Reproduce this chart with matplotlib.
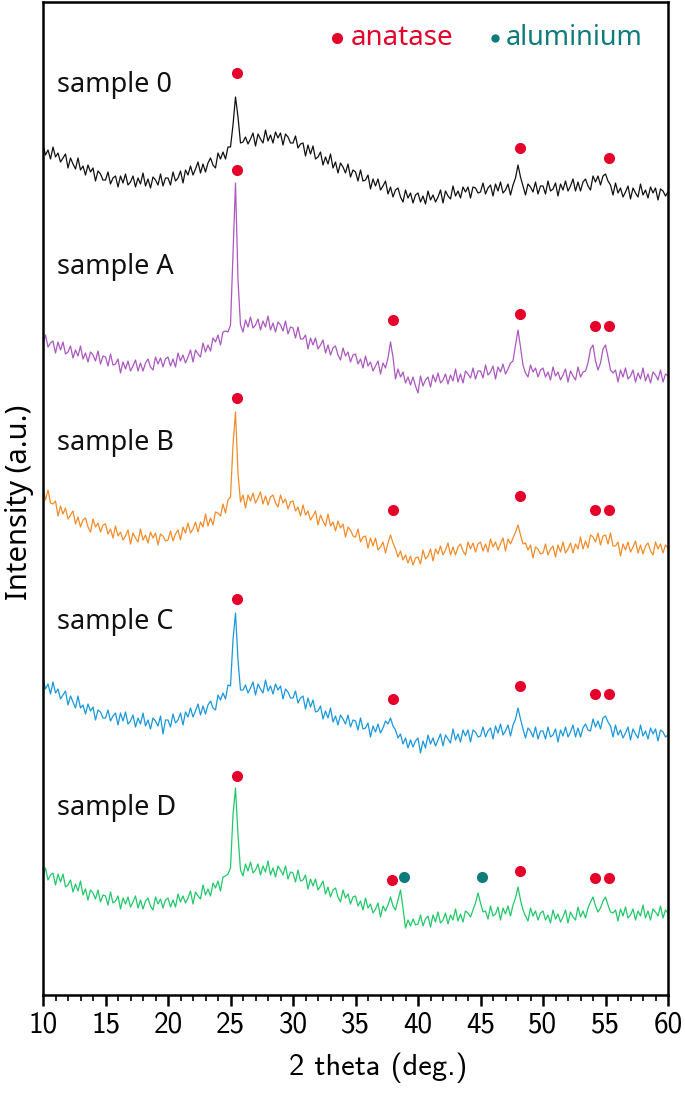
import numpy as np
import matplotlib
matplotlib.use("Agg")
import matplotlib.pyplot as plt

# 2 theta grid of the scans (0.2 deg step)
two_theta = np.round(np.arange(10.0, 60.01, 0.2), 1)

# intensities (a.u., each trace above its own offset)
sample_0 = [
    60, 50, 55, 46, 58, 48, 52, 43, 47, 51, 37, 47, 41, 36, 47, 35, 39, 30, 40, 33, 37, 24, 34, 31, 25,
    25, 33, 21, 27, 29, 18, 29, 22, 31, 20, 23, 29, 18, 27, 21, 32, 19, 26, 17, 28, 25, 20, 31, 19, 27,
    27, 20, 33, 24, 27, 34, 22, 35, 30, 39, 30, 36, 43, 32, 41, 33, 42, 47, 40, 37, 52, 46, 53, 46, 58,
    58, 80, 108, 88, 62, 63, 68, 61, 66, 72, 59, 71, 66, 62, 75, 64, 70, 62, 73, 67, 72, 60, 71, 68, 62,
    62, 69, 57, 61, 62, 49, 60, 51, 59, 46, 48, 53, 40, 48, 41, 51, 37, 43, 32, 42, 38, 32, 41, 28, 35,
    33, 24, 35, 24, 25, 30, 16, 26, 19, 26, 15, 19, 24, 11, 18, 8, 15, 17, 8, 3, 15, 7, 12, 2, 10,
    12, 3, 9, 1, 14, 5, 10, 3, 8, 15, 2, 14, 9, 6, 19, 9, 14, 7, 18, 13, 18, 7, 18, 17, 12,
    13, 22, 11, 17, 20, 9, 21, 14, 23, 12, 15, 21, 10, 20, 27, 40, 28, 19, 10, 21, 18, 13, 23, 11, 19,
    19, 11, 24, 14, 16, 22, 9, 21, 15, 24, 14, 19, 26, 14, 23, 14, 23, 26, 19, 15, 29, 23, 29, 20, 29,
    31, 24, 20, 10, 22, 12, 17, 8, 13, 19, 6, 17, 12, 8, 21, 10, 15, 7, 18, 12, 17, 5, 16, 14, 9,
    13,
]
sample_a = [
    42, 50, 38, 42, 44, 32, 43, 35, 43, 31, 33, 39, 27, 35, 29, 39, 26, 32, 23, 33, 30, 24, 34, 21, 29,
    28, 19, 31, 20, 21, 26, 12, 23, 16, 24, 14, 19, 25, 14, 22, 14, 22, 26, 18, 15, 28, 21, 27, 18, 26,
    28, 19, 26, 18, 32, 24, 30, 22, 28, 35, 23, 35, 31, 28, 42, 33, 40, 34, 47, 43, 50, 40, 53, 54, 53,
    60, 130, 202, 105, 60, 53, 65, 58, 68, 57, 60, 66, 55, 64, 58, 69, 55, 62, 53, 63, 60, 54, 64, 51, 58,
    57, 47, 58, 46, 46, 50, 36, 47, 40, 47, 36, 40, 45, 32, 40, 30, 37, 39, 30, 25, 37, 29, 33, 23, 30,
    31, 21, 26, 17, 29, 19, 23, 14, 19, 24, 11, 22, 17, 27, 43, 28, 6, 16, 8, 13, 2, 8, 0, 8, -1,
    -8, 9, -1, 5, 8, -2, 10, 3, 12, 2, 5, 11, 1, 10, 4, 16, 3, 11, 2, 14, 11, 7, 17, 6, 14,
    14, 7, 20, 10, 13, 19, 6, 18, 13, 21, 11, 16, 22, 24, 40, 55, 38, 20, 12, 8, 20, 13, 17, 8, 15,
    17, 8, 13, 5, 18, 9, 13, 5, 10, 16, 3, 14, 9, 5, 18, 8, 13, 14, 22, 36, 40, 24, 15, 22, 36,
    40, 28, 15, 12, 15, 3, 15, 8, 17, 6, 9, 15, 3, 12, 6, 17, 4, 11, 2, 13, 10, 5, 15, 3, 11,
    9,
]
sample_b = [
    77, 65, 75, 62, 61, 64, 49, 59, 51, 57, 46, 50, 54, 41, 48, 38, 45, 47, 38, 33, 46, 38, 42, 33, 40,
    41, 31, 36, 27, 39, 29, 33, 25, 29, 35, 21, 32, 27, 23, 36, 25, 30, 22, 33, 27, 32, 20, 31, 29, 24,
    25, 34, 24, 31, 35, 25, 38, 32, 42, 32, 36, 43, 33, 43, 38, 51, 39, 47, 40, 53, 52, 49, 61, 52, 65,
    68, 120, 153, 92, 63, 70, 57, 70, 64, 72, 62, 67, 73, 61, 69, 60, 68, 70, 62, 58, 70, 62, 66, 56, 63,
    64, 54, 58, 49, 60, 50, 54, 45, 49, 54, 40, 50, 44, 39, 51, 39, 43, 34, 44, 37, 41, 28, 38, 35, 29,
    28, 36, 23, 28, 29, 17, 27, 19, 27, 15, 18, 23, 12, 22, 30, 22, 16, 8, 14, 5, 10, 2, 9, 0, 7,
    8, 1, 15, 6, 9, 16, 4, 16, 11, 19, 10, 15, 22, 10, 18, 10, 18, 21, 14, 10, 23, 16, 22, 13, 21,
    23, 14, 21, 13, 26, 18, 23, 15, 21, 27, 14, 26, 21, 27, 33, 40, 30, 21, 22, 15, 20, 7, 18, 16, 11,
    12, 21, 10, 16, 19, 8, 20, 13, 23, 12, 16, 22, 12, 21, 16, 28, 16, 24, 17, 30, 28, 23, 32, 20, 29,
    30, 21, 32, 19, 19, 23, 9, 21, 15, 23, 13, 18, 24, 12, 20, 11, 19, 22, 14, 10, 23, 16, 21, 12, 20,
    17,
]
sample_c = [
    72, 61, 66, 56, 68, 57, 61, 51, 55, 59, 45, 54, 48, 42, 54, 42, 45, 36, 46, 39, 43, 30, 40, 38, 32,
    32, 40, 29, 34, 37, 25, 37, 29, 38, 26, 29, 35, 23, 32, 26, 37, 24, 30, 21, 32, 29, 24, 34, 16, 30,
    30, 23, 36, 27, 30, 37, 25, 38, 33, 42, 33, 39, 46, 35, 44, 36, 45, 49, 42, 40, 55, 50, 57, 51, 65,
    64, 110, 137, 90, 60, 60, 65, 57, 62, 68, 55, 66, 61, 57, 70, 59, 64, 56, 66, 60, 64, 51, 61, 58, 52,
    52, 59, 47, 52, 54, 41, 52, 43, 50, 38, 39, 44, 31, 39, 32, 42, 28, 34, 25, 35, 31, 26, 35, 23, 30,
    29, 20, 32, 21, 22, 27, 13, 24, 18, 26, 17, 22, 29, 26, 32, 24, 20, 12, 16, 6, 12, 2, 10, 3, 9,
    12, -3, 9, 2, 15, 6, 12, 4, 10, 16, 4, 15, 11, 7, 21, 10, 16, 8, 20, 14, 20, 8, 20, 18, 13,
    14, 23, 13, 19, 22, 11, 24, 17, 26, 15, 19, 25, 14, 25, 31, 42, 31, 21, 12, 22, 19, 13, 23, 11, 19,
    19, 11, 23, 13, 15, 21, 8, 20, 14, 23, 13, 18, 25, 13, 22, 13, 22, 26, 20, 19, 31, 23, 29, 21, 32,
    34, 28, 24, 13, 25, 15, 20, 12, 17, 23, 10, 21, 16, 12, 25, 14, 19, 11, 22, 16, 21, 9, 20, 18, 13,
    15,
]
sample_d = [
    54, 62, 50, 55, 57, 45, 56, 48, 56, 43, 45, 50, 38, 46, 39, 49, 35, 41, 30, 40, 37, 31, 40, 28, 35,
    34, 25, 38, 27, 29, 34, 21, 32, 26, 33, 23, 28, 34, 22, 30, 21, 29, 32, 24, 20, 33, 26, 31, 22, 30,
    32, 23, 30, 23, 36, 28, 34, 27, 32, 39, 26, 38, 34, 31, 45, 35, 41, 34, 47, 42, 49, 39, 53, 54, 56,
    62, 115, 142, 95, 60, 54, 66, 59, 68, 57, 60, 66, 55, 64, 58, 69, 55, 62, 53, 64, 60, 55, 64, 51, 58,
    57, 48, 60, 49, 50, 55, 41, 51, 44, 51, 40, 44, 49, 36, 43, 33, 40, 42, 33, 28, 40, 32, 36, 26, 33,
    34, 24, 29, 20, 32, 22, 26, 17, 21, 27, 13, 24, 19, 25, 33, 24, 20, 30, 40, 22, 2, 10, 4, 11, 5,
    6, 15, 4, 11, 14, 3, 15, 8, 18, 7, 10, 17, 6, 15, 10, 21, 9, 16, 8, 19, 17, 13, 20, 27, 37,
    27, 18, 19, 11, 24, 14, 16, 23, 10, 22, 16, 24, 14, 25, 32, 43, 30, 20, 14, 9, 22, 14, 19, 10, 17,
    19, 10, 15, 7, 20, 11, 16, 8, 13, 20, 7, 18, 13, 10, 23, 13, 19, 12, 22, 28, 33, 24, 18, 22, 29,
    33, 25, 18, 17, 20, 9, 21, 14, 23, 12, 15, 21, 10, 19, 14, 25, 12, 19, 10, 21, 18, 14, 24, 12, 20,
    17,
]

names = ["sample 0", "sample A", "sample B", "sample C", "sample D"]
traces = [sample_0, sample_a, sample_b, sample_c, sample_d]
offsets = [790, 610, 430, 245, 65]
colors = ["#111111", "#ab58bf", "#f28c2a", "#1a98dc", "#20c96a"]
label_y = [910, 728, 552, 373, 187]

# peak markers (2 theta, height)
anatase_x = [25.5, 48.15, 55.25,
             25.5, 38.0, 48.15, 54.15, 55.25,
             25.5, 38.0, 48.15, 54.15, 55.25,
             25.5, 38.0, 48.15, 54.15, 55.25,
             25.5, 37.9, 48.15, 54.15, 55.25]
anatase_y = [922, 847, 837,
             825, 675, 681, 669, 669,
             597, 485, 499, 485, 485,
             396, 296, 309, 301, 301,
             219, 115, 124, 117, 117]
alu_x = [38.9, 45.1]
alu_y = [118, 118]

red = "#e4002b"
teal = "#0e7c7b"
cm = "cmss10"
sans = "Noto Sans"

fig = plt.figure(figsize=(6.85, 10.96), dpi=100)
ax = fig.add_axes([43 / 685, 1 - 995 / 1096, 625 / 685, 993 / 1096])

for name, tr, off, c, ly in zip(names, traces, offsets, colors, label_y):
    ax.plot(two_theta, np.array(tr) + off, color=c, lw=0.9)
    ax.text(11.1, ly, name, fontsize=19.5, family=sans, va="center", color="#111111")

ax.plot(anatase_x, anatase_y, "o", color=red, ms=8, mec="none")
ax.plot(alu_x, alu_y, "o", color=teal, ms=8, mec="none")

# legend
ax.plot([0.471], [0.964], "o", color=red, ms=8, mec="none", transform=ax.transAxes)
ax.text(0.492, 0.964, "anatase", color=red, fontsize=20, family=sans, va="center",
        transform=ax.transAxes)
ax.plot([0.723], [0.964], "o", color=teal, ms=6, mec="none", transform=ax.transAxes)
ax.text(0.741, 0.964, "aluminium", color=teal, fontsize=19.5, family=sans, va="center",
        transform=ax.transAxes)

ax.set_xlim(10, 60)
ax.set_ylim(0, 993)
ax.set_xticks(range(10, 61, 5))
ax.set_xticks(range(10, 61, 1), minor=True)
ax.set_yticks([])
for lbl in ax.get_xticklabels():
    lbl.set_family(cm)
ax.tick_params(axis="x", which="major", direction="out", length=8, width=1.8, labelsize=21, pad=4)
ax.tick_params(axis="x", which="minor", direction="out", length=4, width=1.2)
for s in ax.spines.values():
    s.set_linewidth(1.8)

ax.set_xlabel("2 theta (deg.)", fontsize=22, family=cm, va="center")
ax.xaxis.set_label_coords(0.536, -0.0735)
ax.set_ylabel("Intensity (a.u.)", fontsize=21, family=sans, va="center")
ax.yaxis.set_label_coords(-0.038, 0.4965)

fig.savefig("out.png", dpi=100)
